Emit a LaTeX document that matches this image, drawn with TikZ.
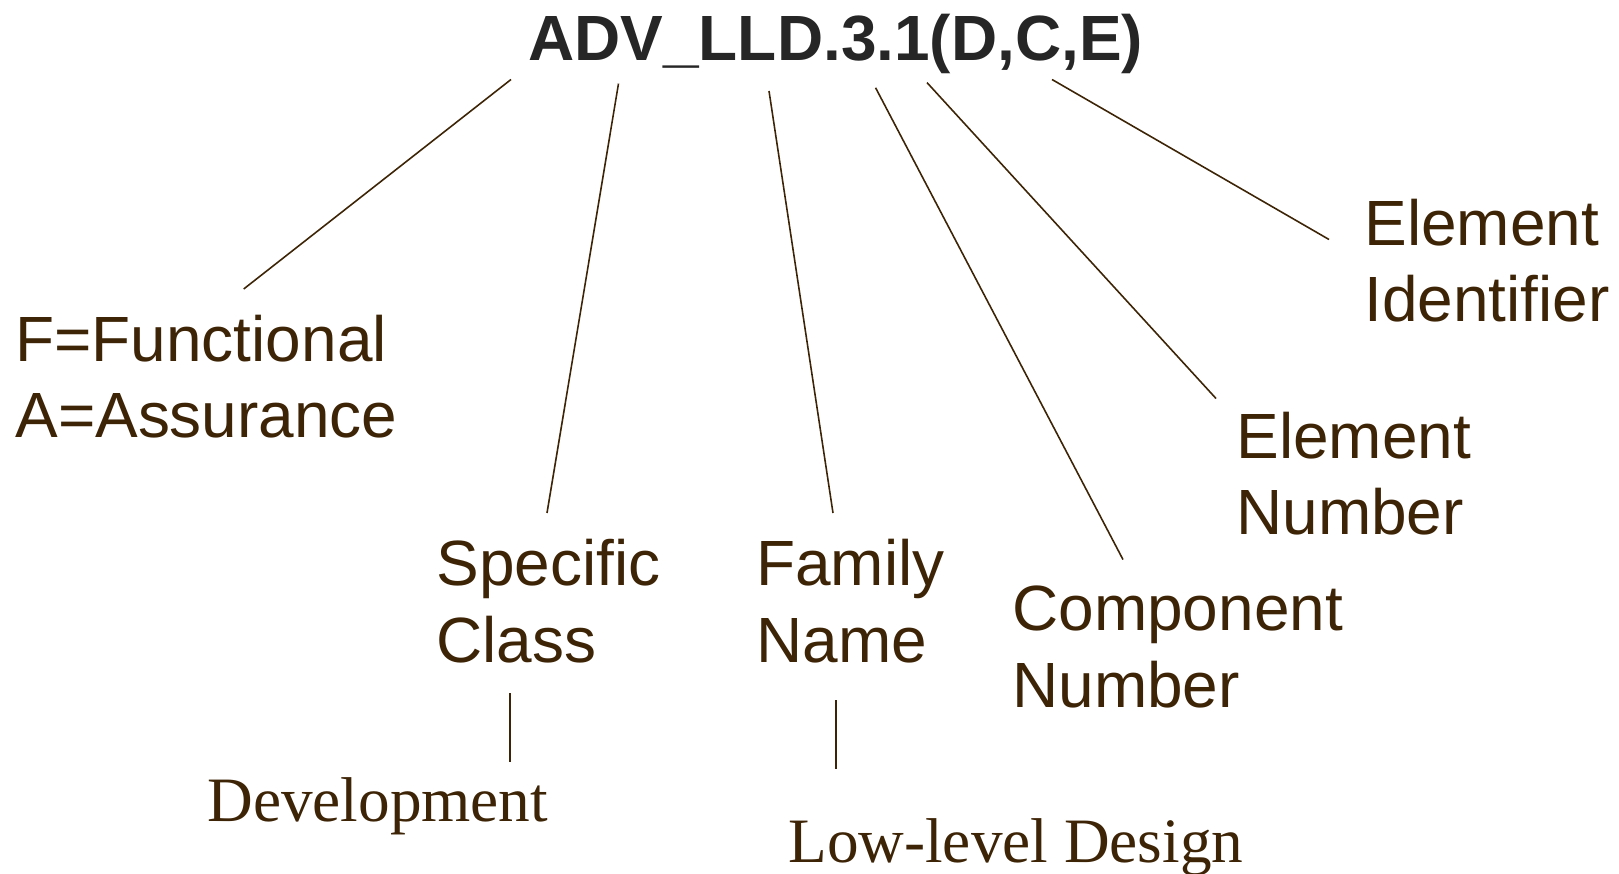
\documentclass[tikz,border=0pt]{standalone}
\usepackage{fontspec}
\setmainfont{Liberation Serif}
\setsansfont{Liberation Sans}

\definecolor{bark}{RGB}{61,36,6}
\definecolor{ink}{RGB}{38,38,38}

\tikzset{
    part/.style={anchor=base west, inner sep=0pt, align=left, text=bark,
        font=\sffamily\fontsize{36.4}{43.8}\selectfont},
    word/.style={anchor=base west, inner sep=0pt, text=bark,
        font=\rmfamily\fontsize{36}{43}\selectfont},
    lead/.style={draw=bark, line width=0.9pt}
}

\begin{document}
\begin{tikzpicture}[x=0.02cm,y=-0.02cm]
    \useasboundingbox (0,0) rectangle (1619,874);

    % the component name
    \node[anchor=base west, inner sep=0pt, text=ink,
        font=\sffamily\bfseries\fontsize{36.4}{44}\selectfont]
        (code) at (528,61) {ADV\_LLD.3.1(D,C,E)};

    % what each part means (placed by the baseline of the last line)
    \node[part] (kind) at (15,438) {F=Functional\\A=Assurance};
    \node[part] (class) at (436,662) {Specific\\Class};
    \node[part] (family) at (756,662) {Family\\Name};
    \node[part] (comp) at (1012,707) {Component\\Number};
    \node[part] (elnum) at (1236,535) {Element\\Number};
    \node[part] (elid) at (1364,322) {Element\\Identifier};
    \node[word] (dev) at (207,821) {Development};
    \node[word] (lld) at (788,862) {Low-level Design};

    % ends of the leader lines
    \coordinate (kind-a) at (511,79.5);   \coordinate (kind-b) at (243.7,289);
    \coordinate (class-a) at (618.5,83.6); \coordinate (class-b) at (547,513);
    \coordinate (family-a) at (769,91);    \coordinate (family-b) at (833,513);
    \coordinate (comp-a) at (875.6,87.8);  \coordinate (comp-b) at (1123,559.6);
    \coordinate (elnum-a) at (927,82.6);   \coordinate (elnum-b) at (1216,398.5);
    \coordinate (elid-a) at (1052,79.5);   \coordinate (elid-b) at (1329,239.5);
    \coordinate (dev-a) at (510,693);      \coordinate (dev-b) at (510,762);
    \coordinate (lld-a) at (836,700);      \coordinate (lld-b) at (836,769);

    \foreach \p in {kind,class,family,comp,elnum,elid,dev,lld}
        \draw[lead] (\p-a) -- (\p-b);
\end{tikzpicture}
\end{document}
